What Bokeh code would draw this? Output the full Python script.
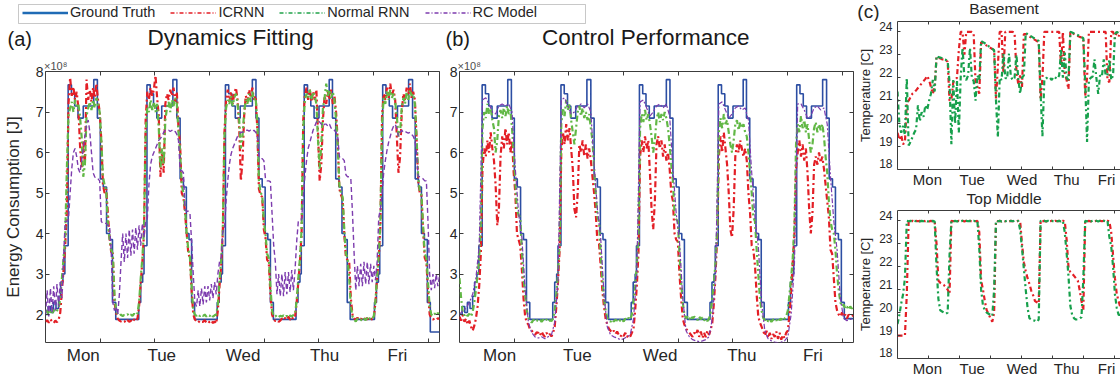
import numpy as np
from bokeh.plotting import figure
from bokeh.layouts import row, column
from bokeh.models import (Range1d, LinearAxis, FixedTicker, Label, Legend,
                          LegendItem, BoxAnnotation, Title)
from bokeh.embed import file_html
from bokeh.resources import INLINE

FONT = "Liberation Sans"
INK = "#262626"
FRAME = "#3c3c3c"
C_GT = "#2c4ea3"
C_ICRNN = "#e31f26"
C_RNN = "#62b846"
C_RNN_T = "#17a04c"
C_RC = "#7d3cae"

# ---------------------------------------------------------------- data
# time axis in hours from Monday 00:00 (half-hourly and hourly samples)
t_half = np.arange(241) * 0.5
t_hour = np.arange(121) * 1.0

days = ["Mon", "Tue", "Wed", "Thu", "Fri"]
tick_hours = [16.65, 33.3, 49.95, 66.6, 83.25, 99.9, 116.55]
day_pos_fit = [11.5, 35.4, 60.2, 85.0, 107.2]
day_pos_ctl = [12.2, 35.9, 61.1, 86.0, 107.6]
day_pos_temp = [16.1, 40.2, 67.0, 91.1, 112.5]
energy_ticks = [2, 3, 4, 5, 6, 7, 8]
temp_ticks = [18, 19, 20, 21, 22, 23, 24]

# measured energy (x1e8 J), piecewise-constant: change times and levels
gt_t = [0, 0.8, 1.6, 2.4, 3.2, 4.0, 4.6, 5.3, 5.9, 6.9, 7.9, 8.9, 9.9, 11.5, 14.7, 15.8, 16.7, 17.6, 18.6, 19.5, 20.4, 21.4,
        28.4, 29.0, 29.6, 30.0, 30.9, 31.9, 32.9, 33.9, 35.4, 38.8, 40.0, 41.0, 42.0, 42.9, 43.7, 44.5, 45.4,
        52.3, 52.9, 53.5, 53.9, 54.8, 55.8, 56.8, 57.8, 59.3, 63.0, 64.1, 65.0, 66.0, 66.9, 67.7, 68.5, 69.4,
        76.3, 76.9, 77.5, 77.9, 78.8, 79.8, 80.8, 81.8, 83.3, 86.4, 87.4, 88.4, 89.4, 90.3, 91.1, 91.9, 92.8,
        100.2, 100.8, 101.4, 101.8, 102.7, 103.7, 104.7, 105.7, 107.2, 110.6, 111.8, 112.6, 113.6, 114.5, 115.4, 116.3,
        117.2, 120.0]
gt_v = [2.0, 2.2, 2.05, 2.3, 2.15, 2.45, 2.8, 3.0, 3.7, 7.67, 7.45, 7.15, 6.85, 7.15, 7.8, 6.85, 5.35, 5.15, 4.0, 3.85, 2.3, 1.88,
        2.3, 2.8, 3.0, 3.7, 7.67, 7.45, 7.15, 6.85, 7.15, 7.8, 6.85, 5.35, 5.15, 4.0, 3.85, 2.3, 1.88,
        2.3, 2.8, 3.0, 3.7, 7.67, 7.45, 7.15, 6.85, 7.15, 7.8, 6.85, 5.35, 5.15, 4.0, 3.85, 2.3, 1.88,
        2.3, 2.8, 3.0, 3.7, 7.67, 7.45, 7.15, 6.85, 7.15, 7.8, 6.85, 5.35, 5.15, 4.0, 3.85, 2.3, 1.88,
        2.3, 2.8, 3.0, 3.7, 7.67, 7.45, 7.15, 6.85, 7.15, 7.8, 6.85, 5.35, 5.15, 4.0, 3.85, 2.3]
gt_end_fit = [1.57, 1.57]
gt_end_ctl = [1.9, 1.9]

# (a) model outputs, half-hourly
fit_icrnn = [
    1.82, 1.86, 1.80, 1.88, 1.83, 1.79, 1.85, 1.81, 1.87, 2.05, 2.60, 3.10,
    3.70, 4.60, 7.20, 7.85, 7.40, 7.62, 7.30, 7.50, 7.10, 6.20, 5.60, 6.30,
    5.70, 7.80, 7.30, 7.55, 7.25, 7.60, 7.35, 7.70, 7.30, 7.00, 6.30, 5.20,
    5.00, 5.10, 4.50, 3.90, 3.55, 3.50, 2.30, 2.05, 1.90, 1.85, 1.83, 1.86,
    1.84, 1.80, 1.86, 1.82, 1.85, 1.81, 1.88, 1.84, 1.90, 2.20, 2.80, 3.30,
    4.00, 6.80, 7.50, 7.30, 7.60, 7.40, 7.55, 7.90, 7.35, 6.90, 5.40, 6.00,
    5.50, 7.20, 7.45, 7.30, 7.55, 7.40, 7.60, 7.25, 7.50, 6.60, 6.20, 5.00,
    4.90, 4.50, 4.00, 3.50, 3.40, 2.60, 2.00, 1.88, 1.84, 1.80, 1.85, 1.82,
    1.82, 1.86, 1.80, 1.84, 1.81, 1.85, 1.79, 1.83, 1.78, 2.10, 2.70, 3.20,
    4.00, 6.50, 7.30, 7.55, 7.25, 7.50, 7.20, 7.45, 7.60, 7.30, 6.60, 5.30,
    5.80, 6.90, 7.40, 7.25, 7.55, 7.35, 7.60, 7.30, 7.40, 6.60, 5.10, 4.95,
    4.90, 4.10, 3.90, 3.35, 3.30, 2.50, 2.00, 1.88, 1.84, 1.86, 1.82, 1.85,
    1.90, 1.86, 1.92, 1.88, 1.95, 1.87, 1.93, 1.89, 1.94, 2.30, 2.80, 3.30,
    4.00, 6.80, 7.40, 7.60, 7.30, 7.55, 7.25, 7.50, 7.30, 7.55, 6.50, 5.30,
    5.70, 6.80, 7.40, 7.20, 7.50, 7.30, 7.55, 7.20, 7.40, 7.00, 6.30, 5.10,
    4.95, 4.85, 4.00, 3.40, 3.35, 3.30, 2.40, 2.00, 1.90, 1.88, 1.92, 1.87,
    1.90, 1.87, 1.92, 1.88, 1.91, 1.86, 1.90, 1.88, 1.93, 2.30, 2.90, 3.40,
    4.20, 6.90, 7.45, 7.30, 7.60, 7.35, 7.70, 7.40, 7.55, 7.30, 6.40, 5.50,
    5.90, 7.00, 7.45, 7.30, 7.60, 7.40, 7.70, 7.35, 7.50, 7.30, 6.40, 5.30,
    5.00, 4.95, 4.10, 3.40, 3.30, 2.60, 2.00, 1.92, 1.88, 1.90, 1.87, 1.91,
    1.89]
fit_rnn = [
    2.05, 2.10, 2.00, 2.08, 2.02, 2.12, 2.05, 2.10, 2.15, 2.40, 2.90, 3.40,
    3.90, 5.60, 6.90, 7.10, 7.25, 7.00, 7.30, 7.15, 7.20, 6.90, 6.40, 5.40,
    5.70, 6.90, 7.10, 7.25, 7.05, 7.30, 7.10, 7.35, 7.20, 7.00, 6.30, 5.40,
    5.20, 5.05, 4.20, 3.90, 3.60, 3.50, 2.50, 2.10, 2.00, 1.97, 2.00, 1.96,
    1.99, 1.98, 2.01, 1.96, 2.00, 1.97, 2.02, 1.98, 2.03, 2.30, 2.90, 3.40,
    4.10, 6.50, 7.10, 7.00, 7.30, 7.05, 7.25, 7.00, 7.20, 6.60, 5.60, 6.10,
    5.70, 6.80, 7.10, 7.25, 7.00, 7.30, 7.15, 7.35, 7.20, 6.50, 6.00, 5.20,
    5.00, 4.60, 4.00, 3.60, 3.40, 2.70, 2.10, 2.00, 1.97, 2.01, 1.96, 2.00,
    1.97, 2.00, 1.95, 1.99, 1.96, 2.01, 1.95, 1.98, 2.00, 2.25, 2.85, 3.35,
    4.10, 6.40, 7.10, 7.30, 7.20, 7.40, 7.15, 7.35, 7.45, 7.20, 6.80, 6.10,
    6.40, 7.00, 7.30, 7.20, 7.45, 7.25, 7.50, 7.30, 7.35, 6.80, 5.30, 5.00,
    4.95, 4.30, 4.00, 3.50, 3.40, 2.70, 2.10, 1.97, 1.95, 1.99, 1.94, 1.97,
    1.95, 1.98, 1.94, 1.97, 1.93, 1.98, 1.95, 1.99, 2.00, 2.35, 2.90, 3.40,
    4.10, 6.60, 7.30, 7.45, 7.35, 7.55, 7.30, 7.50, 7.40, 7.20, 6.30, 5.60,
    6.20, 7.10, 7.35, 7.70, 7.40, 7.55, 7.35, 7.50, 7.30, 6.80, 6.20, 5.20,
    5.00, 4.90, 4.10, 3.50, 3.40, 2.90, 2.20, 1.95, 1.88, 1.83, 1.90, 1.86,
    1.88, 1.84, 1.90, 1.86, 1.92, 1.87, 1.93, 1.90, 1.96, 2.35, 2.95, 3.50,
    4.30, 6.70, 7.35, 7.20, 7.50, 7.30, 7.55, 7.35, 7.45, 7.25, 6.90, 6.40,
    6.50, 7.10, 7.35, 7.20, 7.50, 7.30, 7.55, 7.40, 7.45, 7.20, 6.40, 5.40,
    5.05, 4.95, 4.20, 3.50, 3.40, 2.80, 2.20, 2.00, 1.97, 2.03, 1.98, 2.04,
    2.00]
fit_rc = [
    2.00, 2.60, 1.95, 2.65, 2.05, 2.70, 2.10, 2.75, 2.20, 2.80, 2.40, 3.40,
    4.30, 4.30, 4.35, 5.00, 5.60, 6.00, 6.10, 5.90, 5.60, 5.50, 5.80, 6.10,
    6.40, 6.70, 6.80, 6.50, 6.00, 5.50, 5.40, 5.35, 5.35, 5.30, 4.30, 4.25,
    4.25, 4.25, 4.20, 4.20, 3.60, 2.30, 2.10, 2.20, 2.00, 2.50, 3.30, 4.00,
    3.30, 4.00, 3.40, 4.10, 3.45, 4.10, 3.50, 4.15, 3.60, 4.20, 3.70, 4.25,
    3.90, 4.30, 4.35, 5.20, 5.70, 5.90, 6.00, 6.10, 6.20, 6.30, 6.35, 6.40,
    6.50, 6.55, 6.55, 6.55, 6.52, 6.55, 6.50, 6.52, 6.45, 6.30, 5.60, 5.55,
    5.50, 4.60, 4.55, 4.55, 4.50, 3.80, 3.00, 2.30, 2.20, 2.60, 2.20, 2.65,
    2.25, 2.70, 2.30, 2.70, 2.35, 2.75, 2.40, 2.80, 2.50, 3.00, 3.30, 3.40,
    4.05, 4.10, 4.80, 5.30, 5.70, 5.95, 6.10, 6.20, 6.30, 6.40, 6.45, 6.50,
    6.50, 6.52, 6.55, 6.55, 6.53, 6.55, 6.52, 6.55, 6.50, 6.45, 5.90, 5.85,
    5.85, 5.80, 5.35, 5.30, 5.30, 5.28, 4.50, 3.70, 3.30, 2.50, 3.00, 2.45,
    3.00, 2.45, 3.05, 2.50, 3.05, 2.55, 3.10, 2.60, 3.10, 3.80, 4.30, 4.30,
    4.35, 4.90, 5.40, 5.80, 6.10, 6.25, 6.40, 6.55, 6.65, 6.75, 6.80, 6.75,
    6.70, 6.65, 6.70, 6.70, 6.65, 6.70, 6.60, 6.60, 6.55, 6.50, 6.40, 5.90,
    5.85, 5.85, 5.80, 5.45, 5.40, 5.40, 5.35, 4.50, 3.50, 2.60, 3.20, 2.70,
    3.25, 2.70, 3.30, 2.75, 3.30, 2.75, 3.25, 2.80, 3.20, 2.85, 3.30, 4.40,
    4.60, 5.00, 5.50, 5.80, 6.05, 6.25, 6.40, 6.55, 6.65, 6.70, 6.60, 6.40,
    6.50, 6.55, 6.50, 6.52, 6.50, 6.48, 6.50, 6.45, 6.40, 6.30, 6.00, 5.40,
    5.40, 5.38, 5.35, 5.30, 5.30, 4.30, 3.00, 2.60, 3.00, 2.65, 3.00, 2.70,
    2.95]

# (b) closed-loop energy, half-hourly (RC model hourly)
ctl_icrnn = [
    1.95, 1.85, 1.98, 1.82, 1.90, 1.75, 1.85, 1.70, 1.60, 1.72, 1.90, 2.20,
    2.70, 3.50, 5.60, 6.10, 5.90, 6.30, 6.00, 6.50, 6.10, 5.80, 5.20, 4.20,
    4.60, 5.90, 6.40, 6.10, 6.60, 6.20, 6.50, 6.00, 6.30, 5.50, 5.00, 4.00,
    3.85, 3.70, 3.10, 2.40, 1.95, 1.80, 1.75, 1.62, 1.60, 1.55, 1.50, 1.56,
    1.55, 1.48, 1.58, 1.50, 1.45, 1.55, 1.48, 1.52, 1.46, 1.55, 1.70, 2.20,
    2.80, 3.60, 6.00, 6.50, 6.20, 6.70, 6.30, 6.60, 6.10, 5.60, 4.60, 4.40,
    5.00, 6.20, 6.00, 6.30, 5.90, 6.20, 5.85, 6.10, 5.80, 5.40, 5.00, 4.50,
    3.80, 3.75, 3.20, 2.60, 2.20, 1.90, 1.75, 1.65, 1.60, 1.55, 1.60, 1.52,
    1.58, 1.50, 1.45, 1.52, 1.47, 1.55, 1.44, 1.50, 1.46, 1.55, 1.65, 2.10,
    2.70, 3.50, 5.90, 6.30, 6.00, 6.40, 6.10, 6.30, 5.50, 4.60, 4.10, 4.80,
    6.20, 6.40, 6.10, 6.30, 5.90, 6.20, 5.80, 6.00, 5.60, 5.00, 4.80, 4.00,
    3.85, 3.80, 3.00, 2.40, 1.90, 1.75, 1.65, 1.60, 1.55, 1.50, 1.45, 1.55,
    1.50, 1.62, 1.45, 1.58, 1.42, 1.55, 1.44, 1.60, 1.50, 1.62, 1.80, 2.30,
    3.00, 4.00, 5.90, 6.40, 6.00, 6.50, 6.10, 5.70, 5.00, 4.10, 3.90, 4.60,
    5.90, 6.20, 6.00, 6.30, 6.10, 5.90, 6.10, 5.80, 5.00, 4.50, 3.70, 3.60,
    3.20, 2.50, 1.95, 1.80, 1.70, 1.60, 1.48, 1.60, 1.42, 1.55, 1.40, 1.52,
    1.45, 1.58, 1.40, 1.55, 1.38, 1.50, 1.42, 1.55, 1.60, 2.00, 2.60, 3.30,
    4.00, 5.60, 6.00, 6.30, 5.90, 6.20, 5.80, 6.10, 5.50, 4.60, 4.00, 4.50,
    5.70, 5.90, 5.70, 6.00, 5.75, 5.90, 5.60, 5.20, 4.80, 4.40, 3.60, 3.50,
    2.90, 2.30, 2.10, 2.00, 1.95, 2.05, 1.95, 2.00, 1.90, 2.00, 1.95, 1.97,
    1.97]
ctl_rnn = [
    2.90, 2.40, 2.05, 1.98, 2.03, 1.96, 2.02, 1.95, 2.05, 2.30, 2.60, 3.00,
    3.40, 4.30, 6.60, 7.00, 6.85, 7.20, 6.95, 7.10, 6.80, 6.60, 6.00, 6.30,
    6.90, 7.05, 6.85, 7.10, 6.90, 7.15, 6.95, 7.05, 6.60, 6.00, 5.30, 4.60,
    4.45, 4.40, 3.60, 2.90, 2.50, 2.10, 1.90, 1.85, 1.80, 1.87, 1.82, 1.86,
    1.84, 1.88, 1.82, 1.87, 1.83, 1.88, 1.82, 1.86, 1.84, 1.90, 2.10, 2.50,
    3.00, 3.80, 6.70, 7.10, 6.90, 7.30, 7.05, 7.20, 6.80, 6.50, 6.20, 6.60,
    7.00, 7.15, 6.90, 7.10, 6.85, 7.00, 6.80, 6.95, 6.60, 6.30, 5.60, 5.00,
    4.40, 4.30, 3.50, 2.90, 2.40, 2.10, 1.92, 1.86, 1.82, 1.88, 1.83, 1.87,
    1.85, 1.90, 1.84, 1.88, 1.83, 1.90, 1.86, 1.92, 1.88, 2.00, 2.30, 2.70,
    3.20, 4.00, 6.60, 6.95, 6.75, 7.05, 6.80, 6.95, 6.70, 6.40, 6.00, 6.30,
    6.80, 7.00, 6.75, 6.95, 6.80, 7.00, 6.85, 6.60, 6.20, 5.70, 5.30, 4.50,
    4.35, 4.30, 3.50, 2.80, 2.30, 2.00, 1.90, 1.95, 1.88, 1.97, 1.90, 1.95,
    1.92, 1.86, 1.95, 1.88, 1.93, 1.85, 1.90, 1.84, 1.90, 2.05, 2.40, 2.80,
    3.30, 4.20, 6.50, 6.85, 6.60, 6.95, 6.70, 6.80, 6.50, 6.20, 6.00, 6.30,
    6.70, 6.80, 6.55, 6.75, 6.60, 6.70, 6.50, 6.40, 6.00, 5.50, 5.00, 4.40,
    4.30, 3.60, 3.00, 2.40, 2.10, 1.92, 1.86, 1.90, 1.83, 1.88, 1.82, 1.87,
    1.90, 1.85, 1.92, 1.86, 1.90, 1.84, 1.90, 1.95, 2.10, 2.50, 2.90, 3.40,
    4.20, 6.20, 6.70, 6.50, 6.90, 6.60, 6.80, 6.50, 6.70, 6.30, 6.00, 6.20,
    6.60, 6.75, 6.50, 6.70, 6.55, 6.70, 6.40, 5.90, 5.50, 4.80, 4.30, 4.10,
    4.00, 3.60, 3.00, 2.60, 2.30, 2.20, 2.25, 2.15, 2.20, 2.12, 2.20, 2.15,
    2.18]
ctl_rc = [
    2.0, 2.1, 2.15, 2.3, 2.5, 2.9, 3.7, 7.3, 7.35, 7.2, 7.0, 6.95,
    7.15, 7.2, 7.15, 7.2, 7.0, 5.6, 4.5, 3.9, 2.6, 1.8, 1.55, 1.45,
    1.42, 1.45, 1.4, 1.45, 1.5, 1.8, 2.8, 7.3, 7.35, 7.15, 6.95, 7.0,
    7.15, 7.2, 7.1, 7.2, 7.0, 5.7, 4.6, 3.9, 2.5, 1.7, 1.5, 1.45,
    1.42, 1.38, 1.4, 1.45, 1.5, 1.9, 3.0, 7.25, 7.3, 7.1, 6.9, 7.0,
    7.15, 7.2, 7.1, 7.2, 6.9, 5.6, 4.5, 3.8, 2.4, 1.6, 1.45, 1.38,
    1.35, 1.33, 1.35, 1.38, 1.45, 1.9, 3.0, 7.2, 7.25, 7.05, 6.85, 6.95,
    7.1, 7.15, 7.05, 7.1, 6.8, 5.5, 4.4, 3.7, 2.3, 1.6, 1.4, 1.35,
    1.32, 1.3, 1.32, 1.35, 1.45, 2.0, 3.2, 7.2, 7.2, 7.05, 6.85, 6.9,
    7.1, 7.15, 7.05, 7.1, 6.7, 5.4, 4.3, 3.6, 2.4, 1.9, 1.85, 1.88,
    1.9]

# (c) zone temperatures (deg C), hourly
bas_icrnn = [
    19.6, 19.3, 19.5, 19.1, 19.2, 20.9, 21.0, 21.15, 21.3, 21.35, 21.45, 21.55,
    21.65, 21.75, 21.85, 21.95, 22.08, 21.9, 21.6, 21.3, 21.6, 22.9, 22.85, 22.85,
    22.8, 22.8, 22.75, 22.7, 21.0, 21.05, 21.8, 21.9, 22.0, 23.2, 24.0, 24.0,
    23.0, 24.0, 24.0, 24.0, 24.0, 23.9, 21.8, 21.6, 21.3, 23.55, 23.5, 23.45,
    23.4, 23.35, 23.3, 23.25, 23.2, 21.1, 22.5, 24.0, 24.0, 22.2, 24.0, 24.0,
    24.0, 24.0, 24.0, 23.95, 22.3, 21.7, 22.1, 21.6, 23.9, 23.9, 23.85, 23.8,
    23.75, 23.7, 23.65, 23.6, 23.55, 21.05, 22.0, 24.0, 24.0, 24.0, 24.0, 24.0,
    24.0, 24.0, 24.0, 24.0, 22.5, 24.0, 22.2, 21.9, 21.5, 24.0, 23.95, 23.9,
    23.85, 23.82, 23.78, 23.75, 23.72, 21.2, 22.0, 24.0, 24.0, 24.0, 24.0, 24.0,
    24.0, 24.0, 24.0, 24.0, 24.0, 21.9, 21.8, 24.0, 24.0, 23.7, 24.0, 23.8,
    24.0]
bas_rnn = [
    21.4, 20.0, 19.6, 19.9, 19.5, 22.0, 19.05, 19.2, 19.4, 19.6, 19.75, 20.8,
    20.1, 20.5, 20.3, 20.8, 20.6, 21.0, 21.3, 21.9, 21.4, 22.95, 22.9, 22.88,
    22.85, 22.8, 22.78, 22.72, 21.8, 19.1, 21.9, 20.0, 21.9, 19.6, 22.0, 23.3,
    22.0, 21.9, 22.1, 23.3, 22.0, 21.85, 21.0, 22.1, 21.9, 23.6, 23.55, 23.5,
    23.45, 23.38, 23.32, 23.26, 23.2, 21.0, 19.4, 22.0, 21.9, 23.05, 22.0, 21.95,
    23.05, 22.05, 21.9, 22.0, 23.0, 21.95, 21.3, 22.0, 22.1, 23.95, 23.9, 23.85,
    23.8, 23.75, 23.7, 23.65, 23.6, 21.3, 19.45, 21.9, 22.0, 21.95, 22.0, 21.9,
    22.05, 22.0, 21.95, 22.1, 23.2, 22.0, 23.1, 22.0, 21.9, 24.0, 23.97, 23.93,
    23.9, 23.86, 23.82, 23.78, 23.72, 21.8, 19.2, 21.9, 22.0, 22.05, 22.8, 22.0,
    21.3, 22.1, 22.05, 22.8, 22.1, 22.1, 22.8, 21.9, 22.1, 23.9, 24.0, 23.95,
    24.0]
top_icrnn = [
    19.0, 19.0, 19.0, 19.0, 19.0, 20.8, 24.0, 23.98, 24.0, 23.97, 24.0, 23.98,
    24.0, 23.97, 24.0, 23.98, 24.0, 23.97, 24.0, 23.98, 24.0, 23.0, 21.4, 21.3,
    21.25, 21.2, 21.1, 21.0, 20.8, 24.0, 23.98, 24.0, 23.97, 24.0, 23.98, 24.0,
    23.97, 24.0, 23.98, 24.0, 23.97, 24.0, 23.98, 24.0, 23.5, 21.4, 21.0, 20.5,
    20.1, 19.95, 19.75, 19.6, 20.0, 24.0, 23.98, 24.0, 23.97, 24.0, 23.98, 24.0,
    23.97, 24.0, 23.98, 24.0, 23.97, 24.0, 23.98, 23.0, 22.2, 21.8, 21.5, 21.25,
    20.95, 20.75, 20.5, 20.45, 20.4, 24.0, 23.98, 24.0, 23.97, 24.0, 23.98, 24.0,
    23.97, 24.0, 23.98, 24.0, 23.97, 24.0, 23.98, 23.2, 22.0, 21.75, 21.7, 21.6,
    21.5, 21.4, 21.0, 20.5, 20.1, 24.0, 23.98, 24.0, 23.97, 24.0, 23.98, 24.0,
    23.97, 24.0, 23.98, 24.0, 23.97, 24.0, 23.98, 23.5, 22.5, 21.5, 20.8, 20.5,
    20.2]
top_rnn = [
    19.5, 19.9, 20.4, 20.8, 21.5, 24.0, 23.98, 24.0, 23.97, 24.0, 23.98, 24.0,
    23.97, 24.0, 23.98, 24.0, 23.97, 24.0, 23.98, 24.0, 23.97, 22.0, 20.6, 20.1,
    20.05, 20.0, 19.95, 20.0, 22.5, 24.0, 23.98, 24.0, 23.97, 24.0, 23.98, 24.0,
    23.97, 24.0, 23.98, 24.0, 23.97, 24.0, 23.98, 24.0, 22.8, 21.0, 20.3, 20.1,
    20.0, 19.95, 19.9, 19.85, 21.0, 24.0, 23.98, 24.0, 23.97, 24.0, 23.98, 24.0,
    23.97, 24.0, 23.98, 24.0, 23.97, 24.0, 23.6, 22.8, 21.9, 21.0, 20.2, 19.75,
    19.7, 19.65, 19.65, 19.6, 19.7, 24.0, 23.98, 24.0, 23.97, 24.0, 23.98, 24.0,
    23.97, 24.0, 23.98, 24.0, 23.97, 24.0, 23.5, 22.6, 21.6, 20.3, 19.9, 19.75,
    19.7, 19.7, 19.75, 19.8, 21.5, 24.0, 23.98, 24.0, 23.97, 24.0, 23.98, 24.0,
    23.97, 24.0, 23.98, 24.0, 23.97, 24.0, 23.3, 22.9, 22.0, 20.8, 20.2, 19.9,
    19.9]

for series in (fit_icrnn, fit_rnn, fit_rc, ctl_icrnn, ctl_rnn):
    assert len(series) == len(t_half), len(series)
for series in (ctl_rc, bas_icrnn, bas_rnn, top_icrnn, top_rnn):
    assert len(series) == len(t_hour), len(series)
assert len(gt_t) == len(gt_v) + 2

TEMP_LEFT = 42      # left border of the temperature panels (px)
TEMP_WIDTH = 266


# ---------------------------------------------------------------- helpers
def tick_only_axis(ticks, length, line=False):
    # marks only: placed as minor ticks so that no tick labels are produced
    return LinearAxis(ticker=FixedTicker(ticks=[], minor_ticks=ticks), major_tick_in=0,
                      major_tick_out=0, minor_tick_in=length, minor_tick_out=0,
                      minor_tick_line_color=FRAME, axis_line_color=FRAME if line else None,
                      major_label_standoff=0)


def day_axis(day_pos, size, standoff, tick_len, line=False):
    return LinearAxis(ticker=FixedTicker(ticks=day_pos, minor_ticks=tick_hours),
                      major_label_overrides=dict(zip(day_pos, days)),
                      major_tick_in=0, major_tick_out=0,
                      minor_tick_in=tick_len, minor_tick_out=0, minor_tick_line_color=FRAME,
                      axis_line_color=FRAME if line else None,
                      major_label_text_font=FONT, major_label_text_font_size=size,
                      major_label_text_color=INK, major_label_standoff=standoff)


def text_strip(width, height, border_left=0):
    # a blank canvas whose data coordinates are its own pixels (y downward)
    s = figure(width=width, height=height, x_range=Range1d(border_left, width),
               y_range=Range1d(height, 0), x_axis_location=None, y_axis_location=None,
               toolbar_location=None, output_backend="svg", min_border=0,
               min_border_left=border_left)
    s.outline_line_color = None
    s.xgrid.visible = False
    s.ygrid.visible = False
    return s


def put_text(s, txt, x, y, size, align="left", color="#1a1a1a"):
    s.add_layout(Label(x=x, y=y, text=txt, text_font=FONT, text_font_size=size,
                       text_color=color, text_align=align, text_baseline="middle"))


def energy_panel(width, border_left, border_right, day_pos, gt_end, icrnn, rnn, rc, t_rc,
                 rc_dash, rc_width, exp_offset, ylabel=None):
    p = figure(width=width, height=324, x_range=Range1d(0, 120), y_range=Range1d(1.31, 8.0),
               x_axis_location=None, y_axis_location=None, toolbar_location=None,
               output_backend="svg", min_border_left=border_left, min_border_right=border_right,
               min_border_top=16, min_border_bottom=37)
    p.outline_line_color = FRAME
    p.xgrid.visible = False
    p.ygrid.visible = False

    p.step(gt_t, gt_v + gt_end, mode="after", line_color=C_GT, line_width=1.6)
    p.line(t_half, icrnn, line_color=C_ICRNN, line_width=2.2, line_dash="6 3 2 3")
    p.line(t_half, rnn, line_color=C_RNN, line_width=2.2, line_dash="6 3 2 3")
    p.line(t_rc, rc, line_color=C_RC, line_width=rc_width, line_dash=rc_dash)

    left = LinearAxis(ticker=FixedTicker(ticks=energy_ticks), major_tick_in=4, major_tick_out=0,
                      minor_tick_in=0, minor_tick_out=0, major_tick_line_color=FRAME,
                      axis_line_color=None, major_label_text_font=FONT,
                      major_label_text_font_size="14px", major_label_text_color=INK,
                      major_label_standoff=2)
    if ylabel:
        left.axis_label = ylabel
        left.axis_label_text_font = FONT
        left.axis_label_text_font_size = "17px"
        left.axis_label_text_font_style = "normal"
        left.axis_label_text_color = INK
        left.axis_label_standoff = 10
    p.add_layout(left, "left")
    p.add_layout(tick_only_axis(energy_ticks, 4), "right")
    p.add_layout(tick_only_axis(tick_hours, 4), "above")
    p.add_layout(day_axis(day_pos, "17px", 3, 4), "below")

    # exponent marker above the y axis
    p.title = Title(text="×10⁸", align="left", offset=exp_offset, standoff=0,
                    text_font=FONT, text_font_size="11px", text_font_style="normal",
                    text_color="#4d4d4d")
    return p


def temp_panel(height, top, bottom, red, green):
    p = figure(width=TEMP_WIDTH, height=height, x_range=Range1d(0, 120),
               y_range=Range1d(18, 24.45), x_axis_location=None, y_axis_location=None,
               toolbar_location=None, output_backend="svg", min_border_left=TEMP_LEFT,
               min_border_right=0, min_border_top=top, min_border_bottom=bottom)
    p.outline_line_color = None
    p.xgrid.visible = False
    p.ygrid.visible = False

    p.line(t_hour, red, line_color=C_ICRNN, line_width=2.2, line_dash="5 3 2 3")
    p.line(t_hour, green, line_color=C_RNN_T, line_width=2.2, line_dash="5 3 2 3")

    # tick labels sit a little above their tick marks
    lift = 0.24
    label_at = [v + lift for v in temp_ticks]
    left = LinearAxis(ticker=FixedTicker(ticks=label_at, minor_ticks=temp_ticks),
                      major_label_overrides={pos: str(v) for pos, v in zip(label_at, temp_ticks)},
                      major_tick_in=0, major_tick_out=0, minor_tick_in=3, minor_tick_out=0,
                      minor_tick_line_color=FRAME, axis_line_color=FRAME,
                      major_label_text_font=FONT, major_label_text_font_size="12px",
                      major_label_text_color=INK, major_label_standoff=5,
                      axis_label="Temperature [C]", axis_label_text_font=FONT,
                      axis_label_text_font_size="13px", axis_label_text_font_style="normal",
                      axis_label_text_color=INK, axis_label_standoff=3)
    p.add_layout(left, "left")
    p.add_layout(tick_only_axis(tick_hours, 3, line=True), "above")
    p.add_layout(day_axis(day_pos_temp, "15px", 1, 3, line=True), "below")
    return p


# ---------------------------------------------------------------- header: legend and panel titles
hdr = text_strip(854, 55)
k_gt = hdr.line(x=[np.nan], y=[np.nan], line_color="#1f6bb5", line_width=2.5)
k_icrnn = hdr.line(x=[np.nan], y=[np.nan], line_color=C_ICRNN, line_width=1.3, line_dash="4 2 1 2")
k_rnn = hdr.line(x=[np.nan], y=[np.nan], line_color="#22a34a", line_width=1.3, line_dash="4 2 1 2")
k_rc = hdr.line(x=[np.nan], y=[np.nan], line_color=C_RC, line_width=1.3, line_dash="4 2 1 2")
legend = Legend(items=[LegendItem(label="Ground Truth", renderers=[k_gt]),
                       LegendItem(label="ICRNN", renderers=[k_icrnn]),
                       LegendItem(label="Normal RNN", renderers=[k_rnn]),
                       LegendItem(label="RC Model", renderers=[k_rc])],
                orientation="horizontal", location=(22, 34.3), padding=0, margin=0,
                spacing=15, glyph_width=46, glyph_height=17, label_height=17,
                label_standoff=2, label_text_font=FONT, label_text_font_size="14.5px",
                label_text_color=INK, border_line_color=None, background_fill_alpha=0)
hdr.add_layout(legend)
hdr.add_layout(BoxAnnotation(left=18, right=585, top=4, bottom=23, fill_color=None,
                             line_color="#4a4a4a", line_width=1))
put_text(hdr, "(a)", 7, 38.5, "20px")
put_text(hdr, "Dynamics Fitting", 147, 37.3, "22.5px")
put_text(hdr, "(b)", 445, 38.5, "20px")
put_text(hdr, "Control Performance", 541.5, 37.3, "22.5px")

# ---------------------------------------------------------------- panels
p_fit = energy_panel(440, 44, 1, day_pos_fit, gt_end_fit, fit_icrnn, fit_rnn, fit_rc, t_half,
                     "5 3", 1.4, -1.5, ylabel="Energy Consumption [J]")
p_ctl = energy_panel(414, 19, 1, day_pos_ctl, gt_end_ctl, ctl_icrnn, ctl_rnn, ctl_rc, t_hour,
                     "5 2 2 2", 1.2, -2)

# strip above the basement panel: panel tag in the left margin, title over the frame
head_bas = text_strip(TEMP_WIDTH, 21, TEMP_LEFT)
tag_y = [10.3]
head_bas.add_layout(LinearAxis(ticker=FixedTicker(ticks=tag_y),
                               major_label_overrides={tag_y[0]: "(c)"},
                               major_tick_in=0, major_tick_out=0, minor_tick_in=0,
                               minor_tick_out=0, axis_line_color=None,
                               major_label_text_font=FONT, major_label_text_font_size="19px",
                               major_label_text_color=INK, major_label_standoff=18), "left")
put_text(head_bas, "Basement", 149, 7.5, "15.5px", align="center", color=INK)
p_bas = temp_panel(169, 0, 21, bas_icrnn, bas_rnn)

head_top = text_strip(TEMP_WIDTH, 19, TEMP_LEFT)
put_text(head_top, "Top Middle", 149, 7.5, "15.5px", align="center", color=INK)
p_top = temp_panel(170, 1, 19, top_icrnn, top_rnn)

layout = row(column(hdr, row(p_fit, p_ctl, spacing=0), spacing=0),
             column(head_bas, p_bas, head_top, p_top, spacing=0), spacing=0)

open("out.html", "w").write(file_html(layout, INLINE))
